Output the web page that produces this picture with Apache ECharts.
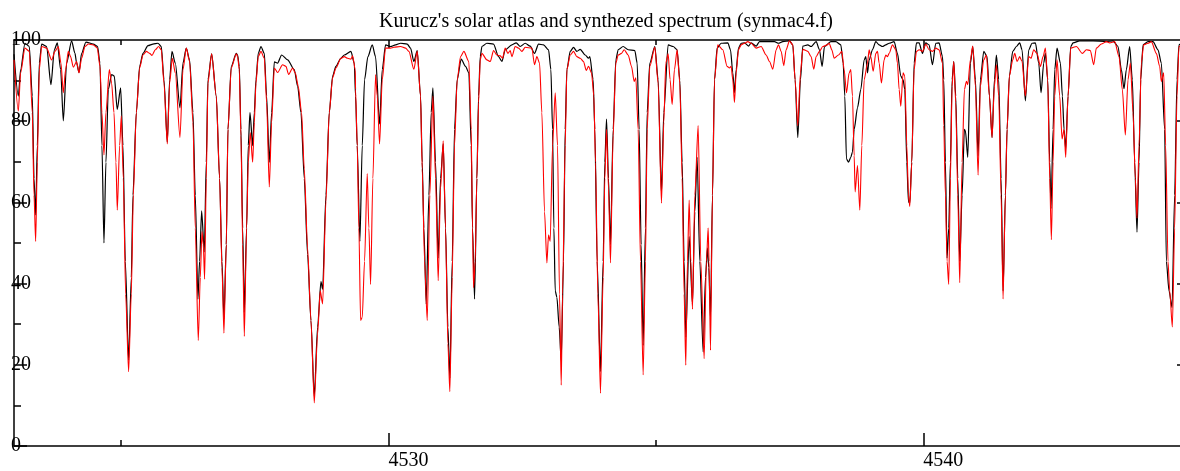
<!DOCTYPE html>
<html>
<head>
<meta charset="utf-8">
<script src="https://cdn.jsdelivr.net/npm/echarts@6/dist/echarts.min.js"></script>
<style>
html,body{margin:0;padding:0;background:#fff;}
#chart{width:1180px;height:471px;}
</style>
</head>
<body>
<div id="chart"></div>
<script>
const chartTitle = "Kurucz's solar atlas and synthezed spectrum (synmac4.f)";
const xMajorTicks = [4530, 4540];
const xMinorTicks = [4525, 4535];
const yMajorTicks = [0, 20, 40, 60, 80, 100];
const yMinorTicks = [10, 30, 50, 70, 90];

// Kurucz solar atlas (black)
const atlasWavelength = [
4523.000,4523.081,4523.124,4523.205,4523.286,4523.342,4523.374,4523.405,4523.436,4523.473,
4523.517,4523.610,4523.691,4523.754,4523.810,4523.872,4523.922,4523.984,4524.077,4524.140,
4524.171,4524.215,4524.264,4524.345,4524.482,4524.563,4524.607,4524.644,4524.682,4524.719,
4524.763,4524.825,4524.875,4524.930,4524.994,4525.037,4525.081,4525.143,4525.193,4525.224,
4525.287,4525.349,4525.411,4525.505,4525.598,4525.692,4525.754,4525.804,4525.866,4525.910,
4525.953,4526.016,4526.103,4526.159,4526.221,4526.283,4526.346,4526.389,4526.439,4526.470,
4526.508,4526.558,4526.595,4526.626,4526.695,4526.782,4526.844,4526.888,4526.925,4526.969,
4527.000,4527.062,4527.156,4527.181,4527.212,4527.243,4527.275,4527.306,4527.349,4527.380,
4527.412,4527.462,4527.493,4527.524,4527.567,4527.617,4527.680,4527.723,4527.773,4527.817,
4527.867,4527.929,4528.004,4528.116,4528.240,4528.303,4528.365,4528.427,4528.489,4528.552,
4528.614,4528.676,4528.739,4528.770,4528.832,4528.894,4528.957,4529.019,4529.112,4529.175,
4529.299,4529.362,4529.386,4529.417,4529.467,4529.511,4529.554,4529.617,4529.698,4529.760,
4529.835,4529.885,4529.947,4530.040,4530.134,4530.227,4530.352,4530.414,4530.476,4530.539,
4530.601,4530.632,4530.663,4530.707,4530.757,4530.800,4530.832,4530.881,4530.931,4530.975,
4531.025,4531.068,4531.112,4531.149,4531.193,4531.236,4531.286,4531.361,4531.442,4531.504,
4531.548,4531.573,4531.611,4531.654,4531.686,4531.717,4531.748,4531.841,4531.966,4532.059,
4532.122,4532.184,4532.309,4532.390,4532.464,4532.558,4532.651,4532.732,4532.807,4532.900,
4532.994,4533.038,4533.069,4533.094,4533.119,4533.150,4533.193,4533.231,4533.274,4533.305,
4533.337,4533.399,4533.461,4533.523,4533.586,4533.679,4533.742,4533.766,4533.828,4533.859,
4533.903,4533.965,4534.015,4534.046,4534.078,4534.115,4534.152,4534.202,4534.252,4534.296,
4534.389,4534.483,4534.607,4534.651,4534.688,4534.725,4534.763,4534.806,4534.838,4534.887,
4534.981,4535.043,4535.105,4535.149,4535.230,4535.324,4535.398,4535.448,4535.492,4535.529,
4535.560,4535.623,4535.685,4535.729,4535.772,4535.822,4535.884,4535.928,4535.965,4535.990,
4536.022,4536.059,4536.097,4536.146,4536.221,4536.346,4536.396,4536.439,4536.470,4536.502,
4536.545,4536.595,4536.657,4536.732,4536.782,4536.875,4536.938,4537.218,4537.293,4537.374,
4537.498,4537.561,4537.604,4537.654,4537.704,4537.748,4537.841,4537.903,4537.997,4538.059,
4538.109,4538.153,4538.271,4538.365,4538.458,4538.502,4538.533,4538.564,4538.602,4538.645,
4538.676,4538.708,4538.770,4538.832,4538.895,4538.926,4538.957,4538.988,4539.050,4539.113,
4539.175,4539.237,4539.299,4539.362,4539.455,4539.517,4539.580,4539.623,4539.655,4539.692,
4539.723,4539.748,4539.785,4539.829,4539.873,4539.922,4539.985,4540.047,4540.109,4540.172,
4540.234,4540.296,4540.359,4540.383,4540.414,4540.445,4540.476,4540.508,4540.539,4540.570,
4540.607,4540.645,4540.682,4540.726,4540.769,4540.788,4540.832,4540.881,4540.925,4540.975,
4541.025,4541.068,4541.131,4541.193,4541.237,4541.286,4541.330,4541.367,4541.411,4541.455,
4541.492,4541.536,4541.567,4541.610,4541.673,4541.741,4541.803,4541.847,4541.909,4541.972,
4542.034,4542.096,4542.159,4542.202,4542.252,4542.283,4542.327,4542.364,4542.389,4542.427,
4542.458,4542.501,4542.564,4542.601,4542.632,4542.663,4542.707,4542.757,4542.800,4542.925,
4543.174,4543.423,4543.548,4543.641,4543.704,4543.753,4543.797,4543.859,4543.909,4543.953,
4543.996,4544.034,4544.065,4544.109,4544.202,4544.295,4544.389,4544.451,4544.513,4544.545,
4544.595,4544.651,4544.700,4544.744,4544.781,4544.850,4545.000
];
const atlasFlux = [
96.5,86.2,92.7,99.2,98.4,86.2,65.9,56.9,74.0,94.3,
99.0,98.4,89.0,97.6,99.3,92.7,80.1,94.3,99.8,96.7,
94.3,92.0,96.7,99.5,99.0,98.4,94.3,74.0,50.0,69.9,
87.8,91.5,91.1,82.9,88.2,74.0,45.5,21.1,41.5,61.8,
82.1,93.5,96.7,98.6,99.0,99.2,98.4,90.2,74.8,90.2,
97.2,94.3,83.3,94.3,98.0,95.1,82.1,61.8,36.2,45.5,
57.9,47.8,69.9,90.2,96.6,86.2,65.9,45.5,31.3,49.6,
78.0,93.5,96.7,96.3,93.5,78.0,53.7,32.9,53.7,74.0,
82.1,74.0,82.1,90.2,96.7,98.4,96.7,86.2,69.9,82.1,
94.6,94.3,96.3,95.1,92.7,88.6,82.1,65.9,47.2,30.9,
12.2,29.3,40.5,38.6,61.8,82.1,91.1,93.5,95.5,96.3,
97.2,94.3,86.2,74.0,50.4,74.0,90.2,95.9,98.8,95.9,
79.3,92.7,98.8,98.4,98.8,99.2,99.0,98.0,94.7,97.4,
86.2,69.9,53.7,35.0,61.8,82.1,88.2,69.9,46.3,65.9,
74.4,53.7,29.3,16.7,45.5,78.0,90.2,95.3,93.5,91.9,
74.0,53.7,36.2,65.9,86.2,95.9,98.4,99.2,99.0,95.9,
94.7,97.6,98.8,99.3,98.4,99.2,98.5,96.7,99.0,98.8,
97.6,92.7,78.0,53.7,38.2,36.6,29.3,21.1,45.5,78.0,
92.7,97.2,98.2,97.2,97.7,96.3,95.5,95.9,90.2,78.0,
45.5,18.3,45.5,69.9,80.5,65.9,49.6,78.0,95.1,97.6,
98.4,97.6,97.4,94.3,78.0,49.6,24.8,53.7,82.1,94.3,
98.4,90.2,62.2,82.1,98.8,98.4,97.6,90.2,69.9,45.5,
26.8,51.6,35.0,57.7,71.1,45.5,23.2,41.5,48.8,43.9,
31.3,61.8,90.2,98.0,99.2,99.3,97.6,91.9,87.0,92.7,
98.0,99.2,99.3,98.5,99.3,98.5,99.6,99.6,99.2,99.6,
99.8,98.8,90.2,76.0,90.2,98.5,98.8,98.4,99.6,97.6,
93.5,98.4,99.6,99.6,98.8,94.3,86.2,70.7,69.9,71.1,
72.4,78.0,83.3,87.8,95.1,95.9,91.9,95.1,97.6,99.6,
98.8,98.4,98.8,99.2,99.6,96.7,91.1,90.2,87.8,69.9,
60.2,59.8,69.9,94.3,99.3,99.3,96.7,99.3,98.8,93.9,
99.2,99.3,95.9,90.2,69.9,46.3,53.7,69.9,90.2,94.7,
86.2,65.9,45.5,61.8,78.0,77.6,71.1,94.3,98.4,90.2,
71.5,90.2,97.2,95.9,86.2,76.0,90.2,96.3,90.2,65.9,
38.2,61.8,78.0,91.1,97.2,98.4,99.3,97.6,85.0,97.6,
99.2,99.3,94.3,87.0,94.3,96.7,90.2,69.9,58.5,78.0,
92.7,98.0,94.3,86.2,78.0,73.2,86.2,98.4,99.3,99.8,
99.8,99.6,99.8,98.4,92.7,88.0,92.7,98.4,90.2,69.9,
52.7,69.9,90.2,98.8,99.6,99.6,97.6,94.3,78.0,45.5,
38.2,34.1,61.8,90.2,98.8,99.4,99.6
];

// synthetic spectrum (red)
const synthWavelength = [
4523.000,4523.081,4523.124,4523.205,4523.286,4523.342,4523.374,4523.405,4523.436,4523.473,
4523.517,4523.610,4523.704,4523.766,4523.828,4523.878,4523.922,4523.965,4524.015,4524.058,
4524.109,4524.171,4524.215,4524.264,4524.327,4524.389,4524.482,4524.557,4524.607,4524.644,
4524.682,4524.719,4524.782,4524.825,4524.869,4524.906,4524.931,4524.975,4525.006,4525.044,
4525.087,4525.143,4525.193,4525.231,4525.287,4525.349,4525.411,4525.474,4525.536,4525.580,
4525.642,4525.704,4525.754,4525.804,4525.866,4525.910,4525.960,4526.016,4526.103,4526.159,
4526.221,4526.283,4526.346,4526.389,4526.445,4526.483,4526.514,4526.539,4526.564,4526.595,
4526.626,4526.695,4526.782,4526.844,4526.888,4526.925,4526.969,4527.000,4527.062,4527.156,
4527.181,4527.212,4527.243,4527.275,4527.306,4527.349,4527.380,4527.418,4527.462,4527.493,
4527.524,4527.567,4527.617,4527.680,4527.723,4527.773,4527.817,4527.867,4527.929,4528.022,
4528.084,4528.134,4528.209,4528.259,4528.315,4528.377,4528.427,4528.489,4528.552,4528.614,
4528.676,4528.726,4528.770,4528.832,4528.894,4528.957,4529.019,4529.112,4529.175,4529.237,
4529.299,4529.331,4529.380,4529.386,4529.417,4529.448,4529.480,4529.511,4529.554,4529.604,
4529.635,4529.667,4529.710,4529.760,4529.791,4529.835,4529.885,4529.947,4530.040,4530.103,
4530.227,4530.321,4530.383,4530.476,4530.539,4530.601,4530.632,4530.676,4530.726,4530.775,
4530.832,4530.881,4530.931,4530.975,4531.025,4531.068,4531.112,4531.149,4531.193,4531.236,
4531.286,4531.349,4531.411,4531.504,4531.548,4531.573,4531.592,4531.623,4531.654,4531.686,
4531.717,4531.748,4531.841,4531.904,4531.966,4532.028,4532.091,4532.134,4532.184,4532.234,
4532.277,4532.309,4532.371,4532.433,4532.496,4532.558,4532.682,4532.732,4532.776,4532.826,
4532.869,4532.919,4532.963,4532.994,4533.025,4533.069,4533.119,4533.162,4533.199,4533.231,
4533.256,4533.305,4533.337,4533.399,4533.461,4533.523,4533.586,4533.648,4533.698,4533.742,
4533.797,4533.841,4533.872,4533.916,4533.965,4534.015,4534.046,4534.078,4534.115,4534.152,
4534.202,4534.252,4534.296,4534.358,4534.408,4534.483,4534.545,4534.595,4534.626,4534.669,
4534.713,4534.763,4534.806,4534.838,4534.887,4534.981,4535.043,4535.105,4535.149,4535.186,
4535.230,4535.267,4535.305,4535.348,4535.398,4535.448,4535.492,4535.529,4535.560,4535.591,
4535.623,4535.654,4535.685,4535.729,4535.791,4535.841,4535.903,4535.946,4535.978,4535.995,
4536.022,4536.059,4536.097,4536.159,4536.252,4536.333,4536.377,4536.408,4536.439,4536.470,
4536.502,4536.545,4536.595,4536.657,4536.720,4536.782,4536.875,4536.969,4537.062,4537.125,
4537.187,4537.249,4537.293,4537.343,4537.392,4537.436,4537.498,4537.561,4537.604,4537.654,
4537.704,4537.748,4537.841,4537.903,4537.953,4537.997,4538.059,4538.121,4538.202,4538.240,
4538.290,4538.334,4538.415,4538.477,4538.521,4538.564,4538.614,4538.645,4538.676,4538.708,
4538.726,4538.770,4538.814,4538.851,4538.895,4538.957,4538.988,4539.019,4539.063,4539.113,
4539.144,4539.175,4539.218,4539.268,4539.299,4539.331,4539.362,4539.424,4539.486,4539.517,
4539.549,4539.580,4539.623,4539.655,4539.692,4539.723,4539.748,4539.785,4539.829,4539.873,
4539.922,4539.985,4540.047,4540.109,4540.172,4540.234,4540.296,4540.359,4540.383,4540.414,
4540.445,4540.476,4540.508,4540.539,4540.570,4540.607,4540.645,4540.682,4540.726,4540.769,
4540.807,4540.832,4540.881,4540.925,4540.975,4541.025,4541.068,4541.131,4541.180,4541.237,
4541.286,4541.330,4541.367,4541.411,4541.455,4541.492,4541.536,4541.567,4541.610,4541.673,
4541.710,4541.754,4541.803,4541.847,4541.909,4541.972,4542.015,4542.065,4542.127,4542.190,
4542.240,4542.283,4542.327,4542.364,4542.395,4542.427,4542.458,4542.501,4542.551,4542.595,
4542.632,4542.663,4542.707,4542.757,4542.863,4542.975,4543.049,4543.124,4543.186,4543.236,
4543.330,4543.423,4543.486,4543.579,4543.660,4543.722,4543.778,4543.828,4543.872,4543.922,
4543.965,4543.996,4544.034,4544.077,4544.121,4544.202,4544.264,4544.358,4544.420,4544.451,
4544.495,4544.532,4544.576,4544.607,4544.657,4544.700,4544.744,4544.781,4544.850,4545.000
];
const synthFlux = [
95.1,82.5,91.9,98.0,97.2,82.1,61.8,50.4,69.9,92.7,
98.4,98.0,95.1,97.2,98.4,94.3,87.0,92.7,97.2,95.9,
93.3,94.7,91.9,95.5,98.4,99.0,98.8,98.0,93.5,82.1,
71.7,82.1,92.7,89.4,82.1,69.9,58.1,74.0,81.3,65.9,
37.4,18.3,37.4,61.8,82.1,93.1,96.3,97.2,96.7,96.2,
97.6,98.4,97.6,89.4,74.4,89.4,95.5,91.9,76.0,92.7,
98.0,94.7,79.7,53.7,26.0,41.5,52.8,49.6,41.1,65.9,
89.4,96.6,86.2,65.9,43.9,27.8,49.6,78.0,93.1,96.6,
95.9,92.7,76.4,49.6,27.0,53.7,69.9,77.2,69.9,79.7,
89.4,95.9,97.2,95.5,84.6,63.8,79.7,93.1,92.0,93.9,
93.5,91.5,93.1,91.9,88.6,82.1,68.3,48.8,30.9,10.6,
27.6,38.2,35.0,60.2,82.1,90.7,93.1,95.5,95.9,95.5,
95.3,96.1,92.7,87.8,74.0,53.7,30.9,31.7,45.5,67.1,
53.7,39.8,65.9,91.5,86.2,74.4,90.2,98.0,98.0,98.2,
98.4,98.0,97.2,92.8,97.2,86.2,68.3,45.5,30.9,61.8,
86.2,65.9,40.7,63.4,75.2,53.7,25.2,13.4,41.5,74.0,
90.2,95.9,97.2,94.7,78.0,53.7,39.0,45.5,65.9,84.6,
95.1,96.7,95.1,94.7,97.4,96.3,96.1,95.5,98.0,96.7,
97.4,95.9,98.4,98.0,97.2,98.2,98.0,93.9,95.9,94.3,
82.1,57.7,45.1,52.0,50.4,74.0,87.0,74.0,37.4,15.0,
37.4,74.0,92.7,96.3,97.2,95.9,95.5,94.7,92.5,93.5,
91.9,86.2,69.9,37.4,13.0,41.5,65.9,78.0,63.4,45.1,
76.4,94.3,96.3,96.7,97.6,96.3,93.5,89.8,90.7,78.0,
45.5,17.5,45.5,78.0,93.5,98.2,89.4,59.8,79.7,94.3,
96.6,90.2,84.1,92.7,97.6,89.4,65.9,37.4,19.9,45.5,
60.6,45.5,33.7,61.8,78.9,45.5,21.5,45.5,53.7,45.5,
23.6,61.8,90.2,98.8,97.6,93.5,93.1,93.5,90.2,84.6,
91.9,97.6,98.8,99.2,99.6,99.2,98.0,98.4,96.3,94.7,
92.8,97.6,98.8,97.2,93.7,97.6,99.8,98.8,90.2,78.9,
91.9,97.7,97.2,95.9,92.8,95.9,97.2,98.4,98.8,99.2,
97.6,95.5,96.3,97.2,92.7,87.0,91.9,92.7,86.2,71.5,
62.6,69.1,58.1,74.0,90.2,94.3,97.6,95.9,92.3,96.7,
97.2,94.3,89.4,95.1,96.3,95.9,96.7,98.8,97.6,94.3,
87.8,83.7,91.9,91.1,74.0,61.8,59.0,69.9,92.7,97.2,
97.6,97.2,99.0,97.6,97.2,98.0,97.6,94.3,78.9,61.8,
45.5,39.8,65.9,88.6,94.7,84.6,61.8,40.2,69.9,87.8,
89.8,89.0,95.1,98.5,88.6,66.7,88.6,95.1,96.3,86.2,
76.0,88.6,93.9,86.2,61.8,36.2,61.8,78.0,91.1,95.1,
96.7,94.7,95.9,94.7,86.2,95.9,95.5,97.6,96.7,93.5,
95.9,98.0,90.2,65.9,50.8,69.9,86.2,95.1,86.2,75.6,
78.0,71.1,86.2,98.0,98.4,96.7,97.6,97.4,93.9,98.0,
99.0,99.6,99.3,99.6,95.9,87.8,76.6,90.2,94.3,82.1,
65.9,56.1,74.0,94.3,98.8,99.2,99.6,96.7,93.5,89.8,
91.9,74.0,45.5,38.2,29.3,53.7,86.2,98.4,98.8,99.0
];

function zip(xs, ys) { return xs.map((x, i) => [x, ys[i]]); }

const serif = "'Liberation Serif', 'DejaVu Serif', serif";
const chart = echarts.init(document.getElementById('chart'), null, {renderer: 'canvas'});
const X_MIN = 4523, X_MAX = 4544.8;
const axisLine = {show: true, onZero: false, lineStyle: {color: '#000', width: 1.5}};
const noLine = {show: false, onZero: false};
const plain = v => String(v);
function xAxisDef(pos, ticks, len, labels, showLine) {
  return {
    type: 'value', position: pos, min: X_MIN, max: X_MAX,
    axisLine: showLine ? axisLine : noLine,
    splitLine: {show: false},
    axisTick: {show: true, inside: true, length: len, customValues: ticks, lineStyle: {color: '#000', width: 1.5}},
    axisLabel: labels ? {show: true, customValues: labels, formatter: plain, align: 'left', margin: 5, color: '#000', fontFamily: serif, fontSize: 20} : {show: false}
  };
}
function yAxisDef(pos, ticks, len, labels, showLine) {
  return {
    type: 'value', position: pos, min: 0, max: 100,
    axisLine: showLine ? axisLine : noLine,
    splitLine: {show: false},
    axisTick: {show: true, inside: true, length: len, customValues: ticks, lineStyle: {color: '#000', width: 1.5}},
    axisLabel: labels ? {show: true, customValues: labels, formatter: plain, align: 'left', margin: 3, color: '#000', fontFamily: serif, fontSize: 20, verticalAlign: 'middle'} : {show: false}
  };
}

chart.setOption({
  animation: false,
  backgroundColor: '#fff',
  title: {
    text: chartTitle, left: 374, top: 7,
    textStyle: {fontFamily: serif, fontSize: 20, fontWeight: 'normal', color: '#000'}
  },
  grid: {left: 14, right: 0, top: 40, bottom: 21, containLabel: false},
  xAxis: [
    xAxisDef('bottom', xMajorTicks, 13, xMajorTicks, true),
    xAxisDef('bottom', xMinorTicks, 6, null, false),
    xAxisDef('top', xMajorTicks, 8, null, true),
    xAxisDef('top', xMinorTicks, 5, null, false)
  ],
  yAxis: [
    yAxisDef('left', yMajorTicks, 13, yMajorTicks, true),
    yAxisDef('left', yMinorTicks, 7, null, false),
    yAxisDef('right', [20, 40, 60, 80], 3, null, false)
  ],
  series: [
    {
      name: 'Kurucz solar atlas', type: 'line', xAxisIndex: 0, yAxisIndex: 0,
      data: zip(atlasWavelength, atlasFlux), showSymbol: false,
      smooth: 0.25, smoothMonotone: 'x',
      lineStyle: {color: '#000', width: 1.2}, z: 2
    },
    {
      name: 'synthetic spectrum', type: 'line', xAxisIndex: 0, yAxisIndex: 0,
      data: zip(synthWavelength, synthFlux), showSymbol: false,
      smooth: 0.25, smoothMonotone: 'x',
      lineStyle: {color: '#ff0000', width: 1.1}, z: 3
    }
  ]
});
</script>
</body>
</html>
